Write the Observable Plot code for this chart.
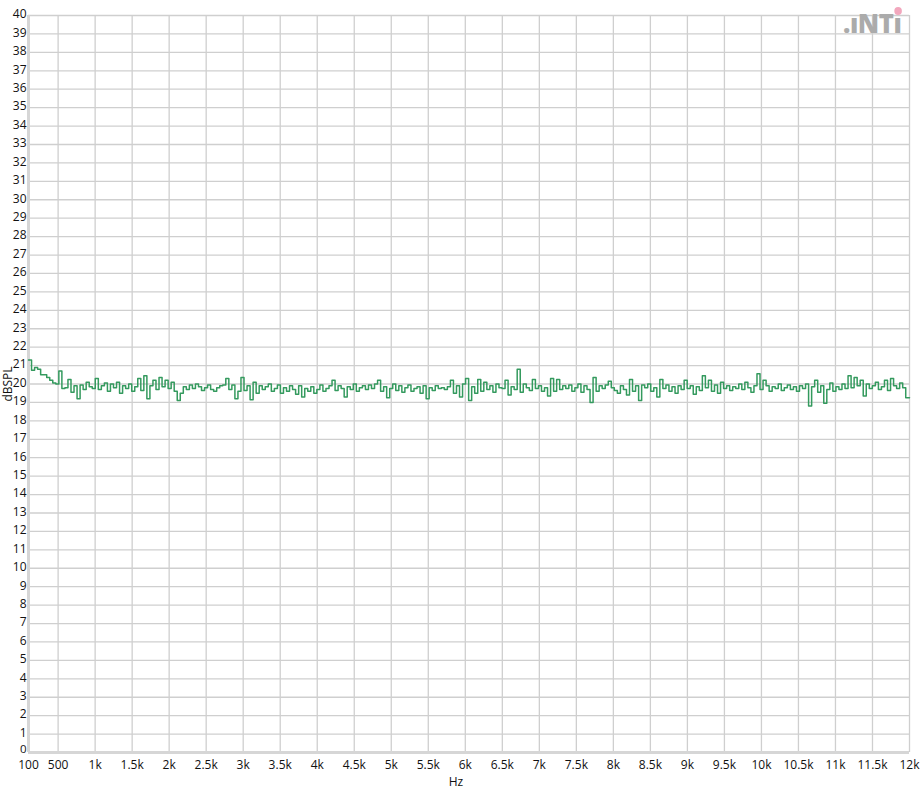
<!DOCTYPE html>
<html>
<head>
<meta charset="utf-8">
<script src="https://cdn.jsdelivr.net/npm/d3@7"></script>
<script src="https://cdn.jsdelivr.net/npm/@observablehq/plot@0.6"></script>
<style>
  html, body { margin: 0; padding: 0; background: #fff; }
  #wrap { position: relative; width: 924px; height: 792px; }
  #logo { position: absolute; left: 843px; top: 9px; font-family: "Open Sans", sans-serif; font-weight: 800; font-size: 27px; color: #ababab; letter-spacing: -0.5px; line-height: 28px; white-space: nowrap; transform: scaleX(0.95); transform-origin: left top; }
  #logo .i { position: relative; }
  #logo .pink { position: absolute; left: 1px; top: 3px; width: 8px; height: 8px; border-radius: 50%; background: #f2a7bd; }
</style>
</head>
<body>
<div id="wrap">
  <div id="chart"></div>
  <div id="logo">.ıNT<span class="i">ı<span class="pink"></span></span></div>
</div>
<script>
// Spectrum bins: start frequency, bin width (Hz), level per bin (dBSPL)
const freqStart = 100;
const freqEnd = 12000;
const binWidth = 41;
const levels = [
  21.3, 20.75, 20.9, 20.8, 20.5, 20.5, 20.35, 20.2, 20.05, 20.0,
  20.7, 19.75, 19.8, 20.25, 19.55, 19.9, 19.2, 19.95, 19.7, 20.1,
  19.85, 19.75, 20.3, 19.7, 19.9, 20.05, 19.6, 20.0, 19.8, 20.1,
  19.5, 19.9, 19.75, 20.0, 19.6, 19.85, 20.3, 19.65, 20.45, 19.2,
  19.9, 20.2, 19.7, 20.35, 19.85, 20.2, 19.75, 20.1, 19.6, 19.1,
  19.5, 19.85, 19.7, 19.95, 19.75, 20.0, 19.85, 19.65, 19.8, 19.95,
  19.7, 19.6, 19.8, 19.9, 19.95, 20.3, 19.7, 19.95, 19.2, 19.6,
  20.35, 19.65, 19.9, 19.15, 20.1, 19.5, 19.9, 19.7, 19.85, 20.0,
  19.6, 19.75, 19.95, 19.5, 19.8, 19.6, 19.9, 19.7, 19.45, 19.9,
  19.3, 19.75, 19.6, 19.85, 19.5, 19.7, 19.95, 19.6, 19.75, 19.9,
  20.2, 19.65, 19.9, 19.75, 19.3, 19.85, 19.7, 20.0, 19.6, 19.8,
  19.9, 19.7, 19.95, 19.75, 20.0, 20.2, 19.6, 19.85, 19.25, 19.75,
  20.0, 19.65, 19.9, 19.55, 19.8, 19.95, 19.6, 19.75, 19.85, 19.5,
  19.9, 19.2, 19.8, 19.65, 19.9, 19.75, 19.8, 19.7, 19.85, 20.2,
  19.5, 19.9, 19.3, 20.0, 20.3, 19.1, 19.85, 19.5, 20.25, 19.6,
  20.1, 19.7, 19.9, 19.55, 20.0, 19.8, 19.75, 20.2, 19.4, 19.85,
  19.7, 20.8, 19.55, 20.0, 19.8, 19.65, 20.25, 19.75, 19.9, 19.6,
  19.8, 19.35, 20.3, 19.6, 20.25, 19.7, 19.9, 19.75, 19.95, 19.6,
  19.8, 20.0, 19.55, 19.9, 19.7, 19.0, 20.35, 19.6, 19.9, 19.75,
  19.95, 20.15, 19.8, 19.65, 19.5, 19.9, 19.7, 19.4, 20.25, 19.6,
  19.9, 19.1, 19.95, 19.8, 20.0, 19.6, 19.8, 19.3, 20.25, 19.75,
  19.95, 19.6, 19.85, 19.5, 19.9, 19.7, 20.2, 19.75, 19.9, 19.45,
  19.85, 19.65, 20.45, 19.8, 20.2, 19.6, 19.95, 19.5, 20.1, 19.75,
  19.9, 19.65, 19.85, 19.75, 20.0, 19.7, 20.1, 19.8, 19.55, 19.9,
  20.55, 19.7, 20.2, 19.9, 19.6, 19.85, 19.75, 20.0, 19.65, 19.8,
  19.95, 19.7, 19.85, 19.6, 19.9, 19.75, 20.0, 18.8, 19.85, 20.2,
  19.55, 19.9, 18.95, 19.7, 20.05, 19.6, 19.85, 19.7, 20.0, 19.75,
  20.45, 19.8, 20.35, 19.9, 20.2, 19.35, 20.0, 19.75, 19.9, 20.1,
  19.7, 19.85, 20.2, 19.65, 20.3, 19.9, 19.75, 20.05, 19.8, 19.25
];
const xTicks = [100, 500, 1000, 1500, 2000, 2500, 3000, 3500, 4000, 4500, 5000, 5500, 6000, 6500, 7000, 7500, 8000, 8500, 9000, 9500, 10000, 10500, 11000, 11500, 12000];
const xTickLabels = ["100", "500", "1k", "1.5k", "2k", "2.5k", "3k", "3.5k", "4k", "4.5k", "5k", "5.5k", "6k", "6.5k", "7k", "7.5k", "8k", "8.5k", "9k", "9.5k", "10k", "10.5k", "11k", "11.5k", "12k"];
const yTicks = d3.range(0, 41);
const xLabel = "Hz";
const yLabel = "dBSPL";

const data = levels.map((v, i) => ({f: freqStart + i * binWidth, db: v}));
data.push({f: freqEnd, db: levels[levels.length - 1]});

const labelOf = new Map(xTicks.map((t, i) => [t, xTickLabels[i]]));
const font = "'Open Sans', 'Noto Sans', sans-serif";

const chart = Plot.plot({
  width: 924,
  height: 792,
  marginLeft: 28,
  marginRight: 15,
  marginTop: 15,
  marginBottom: 40,
  style: {fontFamily: font, fontSize: "12px", color: "#111", background: "#fff"},
  x: {domain: [freqStart, freqEnd]},
  y: {domain: [0, 40]},
  marks: [
    Plot.gridX(xTicks, {stroke: "#cfcfcf", strokeOpacity: 1, strokeWidth: 1.3}),
    Plot.gridY(yTicks, {stroke: "#cfcfcf", strokeOpacity: 1, strokeWidth: 1.3}),
    Plot.ruleX([freqStart], {stroke: "#d6d6d6", strokeWidth: 3}),
    Plot.ruleY([0], {stroke: "#d6d6d6", strokeWidth: 3}),
    Plot.axisX(xTicks, {tickSize: 0, tickPadding: 8, tickFormat: d => labelOf.get(d), label: null, fontSize: 12}),
    Plot.axisY(yTicks.filter(d => d > 0), {tickSize: 0, tickPadding: 2, dy: -1, label: null, fontSize: 12}),
    Plot.axisY([0], {tickSize: 0, tickPadding: 2, dy: -3, label: null, fontSize: 11.5}),
    Plot.text([xLabel], {frameAnchor: "bottom", dx: -13, dy: 33, fontSize: 12, fill: "#111"}),
    Plot.text([yLabel], {frameAnchor: "left", textAnchor: "middle", dx: -20, dy: 0, rotate: -90, fontSize: 12, fill: "#111"}),
    Plot.line(data, {x: "f", y: "db", curve: "step-after", stroke: "#349a5e", strokeWidth: 1.5})
  ]
});
document.getElementById("chart").appendChild(chart);
</script>
</body>
</html>
